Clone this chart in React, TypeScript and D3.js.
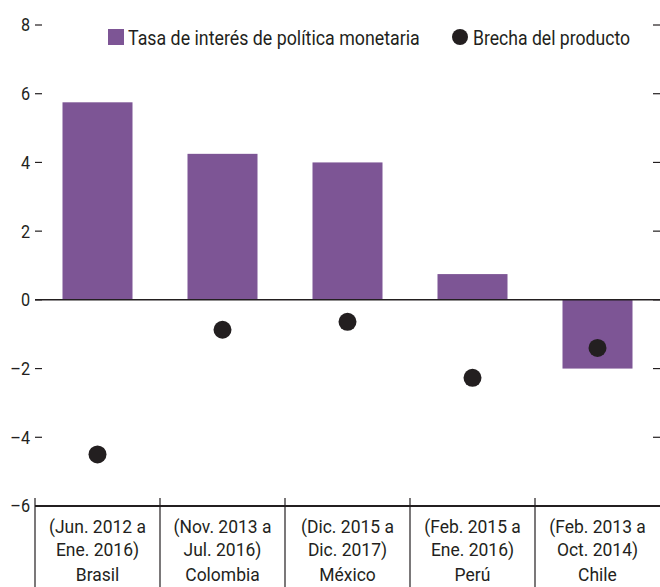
import { useEffect, useRef } from 'react';
import * as d3 from 'd3';

const COUNTRIES = ['Brasil', 'Colombia', 'México', 'Perú', 'Chile'];
const PERIOD_START = ['(Jun. 2012 a', '(Nov. 2013 a', '(Dic. 2015 a', '(Feb. 2015 a', '(Feb. 2013 a'];
const PERIOD_END = ['Ene. 2016)', 'Jul. 2016)', 'Dic. 2017)', 'Ene. 2016)', 'Oct. 2014)'];
const POLICY_RATE = [5.75, 4.25, 4.0, 0.75, -2.0];
const OUTPUT_GAP = [-4.5, -0.87, -0.64, -2.27, -1.4];
const Y_TICKS = [-6, -4, -2, 0, 2, 4, 6, 8];

const PURPLE = '#7d5595';
const INK = '#231f20';
const FONT = 'Roboto, "Liberation Sans", sans-serif';

// squeeze a text horizontally to mimic the condensed face of the original
function condense(sel: d3.Selection<SVGTextElement, unknown, null, undefined>, k: number) {
  const node = sel.node();
  if (!node) return;
  const len = node.getComputedTextLength();
  sel.attr('textLength', len * k).attr('lengthAdjust', 'spacingAndGlyphs');
}

export default function App() {
  const svgRef = useRef<SVGSVGElement>(null);

  useEffect(() => {
    if (!svgRef.current) return;
    const width = 660;
    const height = 587;
    const left = 35;
    const right = 660;

    const svg = d3.select(svgRef.current);
    svg.selectAll('*').remove();
    svg.attr('width', width).attr('height', height).attr('viewBox', `0 0 ${width} ${height}`);

    const y = d3.scaleLinear().domain([-6, 8]).range([506, 25]);
    const x = d3.scaleBand<string>().domain(COUNTRIES).range([left, right]).padding(0);
    const barW = x.bandwidth() * 0.56;

    // ticks left + right
    Y_TICKS.forEach((t) => {
      svg.append('line')
        .attr('x1', left).attr('x2', left + 7)
        .attr('y1', y(t)).attr('y2', y(t))
        .attr('stroke', INK).attr('stroke-width', 1.2);
      svg.append('line')
        .attr('x1', right - 7).attr('x2', right)
        .attr('y1', y(t)).attr('y2', y(t))
        .attr('stroke', INK).attr('stroke-width', 1.2);
      const lab = svg.append('text')
        .attr('x', 30).attr('y', y(t))
        .attr('dy', '0.36em')
        .attr('text-anchor', 'end')
        .attr('font-family', FONT)
        .attr('font-size', '18px')
        .attr('fill', INK)
        .text(t < 0 ? `–${Math.abs(t)}` : `${t}`);
      condense(lab, 0.9);
    });

    // bars
    COUNTRIES.forEach((c, i) => {
      const v = POLICY_RATE[i];
      svg.append('rect')
        .attr('x', x(c)! + (x.bandwidth() - barW) / 2)
        .attr('y', y(Math.max(0, v)))
        .attr('width', barW)
        .attr('height', Math.abs(y(v) - y(0)))
        .attr('fill', PURPLE);
    });

    // zero line
    svg.append('line')
      .attr('x1', left).attr('x2', right)
      .attr('y1', y(0)).attr('y2', y(0))
      .attr('stroke', INK).attr('stroke-width', 1.5);

    // output gap dots
    COUNTRIES.forEach((c, i) => {
      svg.append('circle')
        .attr('cx', x(c)! + x.bandwidth() / 2)
        .attr('cy', y(OUTPUT_GAP[i]))
        .attr('r', 9)
        .attr('fill', INK);
    });

    // bottom table
    svg.append('line')
      .attr('x1', left).attr('x2', right)
      .attr('y1', y(-6)).attr('y2', y(-6))
      .attr('stroke', INK).attr('stroke-width', 1.8);

    COUNTRIES.forEach((c, i) => {
      const x0 = x(c)!;
      svg.append('line')
        .attr('x1', x0).attr('x2', x0)
        .attr('y1', y(-6) - 8).attr('y2', height)
        .attr('stroke', INK).attr('stroke-width', 1.2);
      const cx = x0 + x.bandwidth() / 2;
      [PERIOD_START[i], PERIOD_END[i], c].forEach((txt, j) => {
        const t = svg.append('text')
          .attr('x', cx)
          .attr('y', [533, 556, 581][j])
          .attr('text-anchor', 'middle')
          .attr('font-family', FONT)
          .attr('font-size', '19px')
          .attr('fill', INK)
          .text(txt);
        condense(t, 0.92);
      });
    });

    // legend
    const lg = svg.append('g').attr('font-family', FONT).attr('font-size', '20px').attr('fill', INK);
    lg.append('rect').attr('x', 108).attr('y', 29).attr('width', 16).attr('height', 16).attr('fill', PURPLE);
    condense(lg.append('text').attr('x', 128).attr('y', 45).text('Tasa de interés de política monetaria'), 0.89);
    lg.append('circle').attr('cx', 460).attr('cy', 37).attr('r', 8).attr('fill', INK);
    condense(lg.append('text').attr('x', 473).attr('y', 45).text('Brecha del producto'), 0.88);
  }, []);

  return <svg ref={svgRef} style={{ position: 'absolute', left: 0, top: 0 }} />;
}
